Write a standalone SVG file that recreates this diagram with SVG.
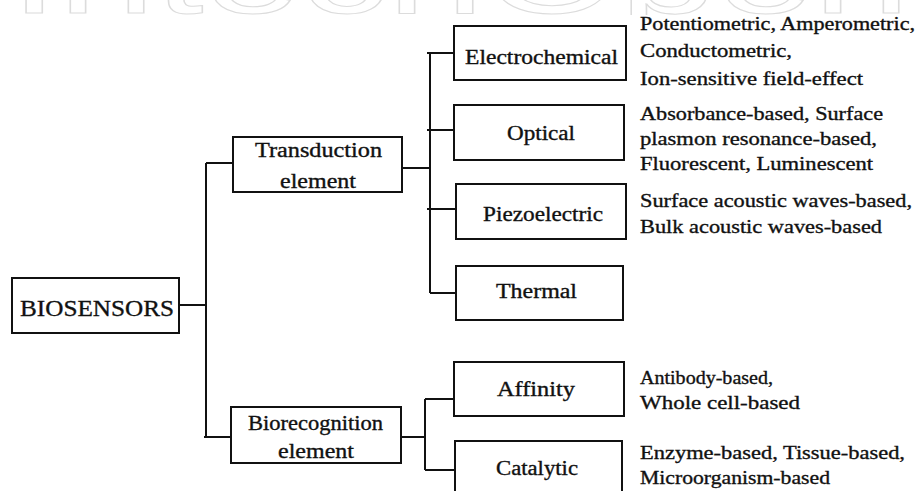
<svg xmlns="http://www.w3.org/2000/svg" width="921" height="491" viewBox="0 0 921 491">
<style>
.box{fill:#fff;stroke:#111;stroke-width:2}
.wire{fill:none;stroke:#111;stroke-width:2}
</style>
<defs>
<clipPath id="wmclip"><rect x="0" y="0" width="921" height="15"/></clipPath>
</defs>
<g id="watermark" clip-path="url(#wmclip)">
<text x="10" y="13" font-family="Liberation Sans, Arial, sans-serif" font-size="110" fill="none" stroke="#dcdcdc" stroke-width="1" textLength="900" lengthAdjust="spacingAndGlyphs">IntechOpen</text>
</g>
<g id="connectors" class="wire">
<path d="M179 305 H206 M206 163 V437 M206 163 H233 M204 437 H231"/>
<path d="M402 168 H430 M430 53 V293 M427 53 H454 M427 130 H454 M427 209 H456 M430 293 H456"/>
<path d="M401 437 H425 M425 399 V470 M425 399 H454 M425 470 H455"/>
</g>
<g font-family="Liberation Serif, Times New Roman, Times, DejaVu Serif, serif" fill="#111" stroke="#111" stroke-width="0.35">
<g id="biosensors">
<rect class="box" x="12" y="278" width="167" height="55"/>
<text x="20" y="315.5" font-size="24" textLength="154" lengthAdjust="spacingAndGlyphs">BIOSENSORS</text>
</g>
<g id="transduction" font-size="20">
<rect class="box" x="233" y="137" width="169" height="55"/>
<text x="255" y="157" textLength="127" lengthAdjust="spacingAndGlyphs">Transduction</text>
<text x="280" y="187.5" textLength="76" lengthAdjust="spacingAndGlyphs">element</text>
</g>
<g id="biorecognition" font-size="20">
<rect class="box" x="231" y="407" width="170" height="56"/>
<text x="248" y="430" textLength="135" lengthAdjust="spacingAndGlyphs">Biorecognition</text>
<text x="278" y="458" textLength="76" lengthAdjust="spacingAndGlyphs">element</text>
</g>
<g id="electrochemical" font-size="20">
<rect class="box" x="454" y="26" width="172" height="54"/>
<text x="465" y="64" textLength="153" lengthAdjust="spacingAndGlyphs">Electrochemical</text>
</g>
<g id="optical" font-size="20">
<rect class="box" x="454" y="105" width="170" height="55"/>
<text x="507" y="140" textLength="68" lengthAdjust="spacingAndGlyphs">Optical</text>
</g>
<g id="piezoelectric" font-size="20">
<rect class="box" x="456" y="184" width="170" height="55"/>
<text x="483" y="220.5" textLength="120" lengthAdjust="spacingAndGlyphs">Piezoelectric</text>
</g>
<g id="thermal" font-size="20">
<rect class="box" x="456" y="266" width="167" height="54"/>
<text x="496" y="298" textLength="81" lengthAdjust="spacingAndGlyphs">Thermal</text>
</g>
<g id="affinity" font-size="20">
<rect class="box" x="454" y="362" width="170" height="54"/>
<text x="497" y="396" textLength="78" lengthAdjust="spacingAndGlyphs">Affinity</text>
</g>
<g id="catalytic" font-size="20">
<rect class="box" x="455" y="441" width="167" height="56"/>
<text x="496" y="475" textLength="82" lengthAdjust="spacingAndGlyphs">Catalytic</text>
</g>
<g id="descriptions" font-size="19">
<text x="640" y="29.5" textLength="275" lengthAdjust="spacingAndGlyphs">Potentiometric, Amperometric,</text>
<text x="640" y="56.5" textLength="152" lengthAdjust="spacingAndGlyphs">Conductometric,</text>
<text x="640" y="85" textLength="223" lengthAdjust="spacingAndGlyphs">Ion-sensitive field-effect</text>
<text x="640" y="119.5" textLength="243" lengthAdjust="spacingAndGlyphs">Absorbance-based, Surface</text>
<text x="640" y="145" textLength="237" lengthAdjust="spacingAndGlyphs">plasmon resonance-based,</text>
<text x="640" y="170" textLength="233" lengthAdjust="spacingAndGlyphs">Fluorescent, Luminescent</text>
<text x="640" y="207" textLength="272" lengthAdjust="spacingAndGlyphs">Surface acoustic waves-based,</text>
<text x="640" y="233" textLength="242" lengthAdjust="spacingAndGlyphs">Bulk acoustic waves-based</text>
<text x="640" y="384" textLength="133" lengthAdjust="spacingAndGlyphs">Antibody-based,</text>
<text x="640" y="409" textLength="160" lengthAdjust="spacingAndGlyphs">Whole cell-based</text>
<text x="640" y="459" textLength="265" lengthAdjust="spacingAndGlyphs">Enzyme-based, Tissue-based,</text>
<text x="640" y="484" textLength="190" lengthAdjust="spacingAndGlyphs">Microorganism-based</text>
</g>
</g>
</svg>
